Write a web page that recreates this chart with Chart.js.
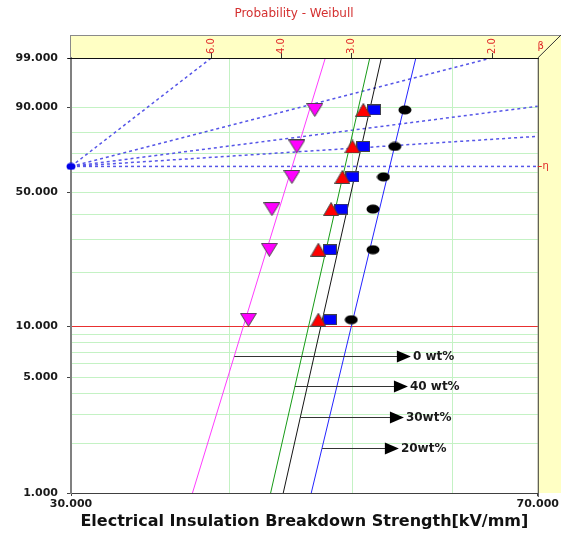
<!DOCTYPE html>
<html>
<head>
<meta charset="utf-8">
<script src="https://cdn.jsdelivr.net/npm/chart.js@4/dist/chart.umd.min.js"></script>
<style>
  html, body { margin: 0; padding: 0; background: #fff; }
  #wrap { width: 561px; height: 533px; }
</style>
</head>
<body>
<div id="wrap"><canvas id="c" width="561" height="533"></canvas></div>
<script>
// cumulative failure probability of each specimen, %
const probs = [10.9, 26.6, 42.2, 57.8, 73.4, 89.1];
// breakdown strength, kV/mm
const wt0 = [41.4, 43.0, 43.2, 44.8, 45.2, 46.7];
const wt40 = [47.0, 47.0, 48.1, 49.1, 50.0, 51.0];
const wt30 = [48.0, 48.0, 49.0, 50.0, 51.0, 52.0];
const wt20 = [49.9, 51.9, 51.9, 52.9, 54.0, 55.0];
// fitted Weibull lines: strength at F = 1 % and at F = 99 %
const fitAt1 = [37.4, 43.1, 44.1, 46.4];
const fitAt99 = [47.6, 51.6, 52.7, 56.1];
const seriesNames = ['0 wt%', '40 wt%', '30wt%', '20wt%'];
// axes
const probTicks = [1, 2, 3, 4, 5, 6, 7, 8, 9, 10, 20, 30, 40, 50, 60, 70, 80, 90, 99];
const probLabels = [1, 5, 10, 50, 90, 99];
const strengthTicks = [30, 40, 50, 60, 70];
const strengthLabels = [30, 70];
// beta estimation scale along the top
const betaTicks = [6, 4, 3, 2];
const betaGuides = [6, 2, 1, 0.5, 0];

const xMin = 30, xMax = 70, pMin = 1, pMax = 99;
const wb = p => Math.log(-Math.log(1 - p / 100));
const unwb = w => 100 * (1 - Math.exp(-Math.exp(w)));
const etaProb = unwb(0);

// y axis drawn on Weibull probability paper
class WeibullScale extends Chart.LinearScale {
  getPixelForValue(v) {
    const a = wb(this.min), b = wb(this.max);
    return this.getPixelForDecimal((wb(v) - a) / (b - a));
  }
  getValueForPixel(px) {
    const a = wb(this.min), b = wb(this.max);
    return unwb(a + this.getDecimalForPixel(px) * (b - a));
  }
}
WeibullScale.id = 'weibull';
WeibullScale.defaults = {};
Chart.register(WeibullScale);

function markerCanvas(w, h, paint) {
  const c = document.createElement('canvas');
  c.width = w; c.height = h;
  paint(c.getContext('2d'), w, h);
  return c;
}
const triDown = fill => markerCanvas(17, 14, (g, w, h) => {
  g.beginPath(); g.moveTo(0.5, 0.5); g.lineTo(w - 0.5, 0.5); g.lineTo(w / 2, h - 0.5); g.closePath();
  g.fillStyle = fill; g.fill(); g.strokeStyle = '#444'; g.stroke();
});
const triUp = fill => markerCanvas(16, 14, (g, w, h) => {
  g.beginPath(); g.moveTo(w / 2, 0.5); g.lineTo(w - 0.5, h - 0.5); g.lineTo(0.5, h - 0.5); g.closePath();
  g.fillStyle = fill; g.fill(); g.strokeStyle = '#444'; g.stroke();
});
const box = fill => markerCanvas(14, 11, (g, w, h) => {
  g.fillStyle = fill; g.fillRect(0.5, 0.5, w - 1, h - 1);
  g.strokeStyle = '#444'; g.strokeRect(0.5, 0.5, w - 1, h - 1);
});
const oval = (fill, w, h) => markerCanvas(w, h, (g) => {
  g.beginPath(); g.ellipse(w / 2, h / 2, w / 2 - 0.5, h / 2 - 0.5, 0, 0, Math.PI * 2);
  g.fillStyle = fill; g.fill();
});

const pts = arr => arr.map((x, i) => ({x: x, y: probs[i]}));
const lineColors = ['#ff3cff', '#179a17', '#151515', '#2424ff'];

const datasets = [];
// markers (drawn on top)
[
  {data: wt40, img: triUp('#ff0000'), order: 1},
  {data: wt30, img: box('#0000ff'), order: 2},
  {data: wt0, img: triDown('#ff00ff'), order: 1},
  {data: wt20, img: oval('#000000', 14, 10), order: 2}
].forEach(s => datasets.push({
  data: pts(s.data), pointStyle: s.img, pointRadius: 7, order: s.order, showLine: false
}));
// fitted lines
fitAt1.forEach((lo, i) => datasets.push({
  data: [{x: lo, y: pMin}, {x: fitAt99[i], y: pMax}],
  showLine: true, pointRadius: 0, borderColor: lineColors[i], borderWidth: 1, order: 5
}));
// beta guide lines through the pivot
betaGuides.forEach(b => {
  let xEnd = xMin * Math.exp(b > 0 ? wb(pMax) / b : Infinity), pEnd = pMax;
  if (!(xEnd <= xMax)) { xEnd = xMax; pEnd = unwb(b * Math.log(xMax / xMin)); }
  datasets.push({
    data: [{x: xMin, y: etaProb}, {x: xEnd, y: pEnd}],
    showLine: true, pointRadius: 0, borderColor: '#5656e8', borderWidth: 1.5,
    borderDash: [3, 3], order: 6
  });
});
// pivot point
datasets.push({
  data: [{x: xMin, y: etaProb}], pointStyle: oval('#0000e8', 10, 8), pointRadius: 5,
  clip: false, order: 0
});

// labels pointing at the fitted lines
const legendArrows = [
  {series: 0, prob: 6.7, tip: 55.6},
  {series: 1, prob: 4.43, tip: 55.3},
  {series: 2, prob: 2.89, tip: 54.9},
  {series: 3, prob: 1.88, tip: 54.4}
];

const decor = {
  id: 'decor',
  beforeDraw(chart) {
    const g = chart.ctx, a = chart.chartArea, W = chart.width, top = a.top - 23;
    g.save();
    g.fillStyle = '#ffffc4';
    g.beginPath();
    g.moveTo(a.left, top); g.lineTo(W, top); g.lineTo(W, a.bottom);
    g.lineTo(a.right, a.bottom); g.lineTo(a.right, a.top); g.lineTo(a.left, a.top);
    g.closePath(); g.fill();
    g.restore();
  },
  afterDraw(chart) {
    const g = chart.ctx, a = chart.chartArea, W = chart.width, top = a.top - 23;
    const xs = chart.scales.x, ys = chart.scales.y;
    g.save();
    // frame of the yellow bands
    g.lineWidth = 1;
    g.strokeStyle = '#8a8a8a';
    g.beginPath(); g.moveTo(a.left, top + 0.5); g.lineTo(W, top + 0.5); g.stroke();
    g.beginPath(); g.moveTo(a.left - 0.5, top); g.lineTo(a.left - 0.5, a.top); g.stroke();
    g.strokeStyle = '#333';
    g.beginPath(); g.moveTo(a.right, a.top); g.lineTo(W, top); g.stroke();
    g.beginPath(); g.moveTo(a.right + 0.5, a.top); g.lineTo(a.right + 0.5, a.bottom + 4); g.stroke();
    g.strokeStyle = '#111';
    g.beginPath(); g.moveTo(a.left - 3, a.top + 0.5); g.lineTo(a.right + 1, a.top + 0.5); g.stroke();

    // beta scale
    g.fillStyle = '#e02828';
    g.font = '10px "DejaVu Sans"';
    g.textAlign = 'center';
    g.textBaseline = 'middle';
    betaTicks.forEach(b => {
      const px = Math.round(xs.getPixelForValue(xMin * Math.exp(wb(pMax) / b))) + 0.5;
      g.strokeStyle = '#333';
      g.beginPath(); g.moveTo(px, a.top - 5); g.lineTo(px, a.top); g.stroke();
      g.save();
      g.translate(px, top + 11);
      g.rotate(-Math.PI / 2);
      g.fillText(b.toFixed(1), 0, 0);
      g.restore();
    });
    g.fillText('\u03b2', a.right + 3, top + 11);
    const ey = Math.round(ys.getPixelForValue(etaProb)) + 0.5;
    g.strokeStyle = '#e02828';
    g.beginPath(); g.moveTo(a.right, ey); g.lineTo(a.right + 4, ey); g.stroke();
    g.fillText('\u03b7', a.right + 8, ey);

    // arrows with series names
    g.font = 'bold 12px "DejaVu Sans"';
    g.textAlign = 'left';
    legendArrows.forEach(r => {
      const i = r.series;
      const t = (wb(r.prob) - wb(pMin)) / (wb(pMax) - wb(pMin));
      const xOn = Math.exp(Math.log(fitAt1[i]) + t * (Math.log(fitAt99[i]) - Math.log(fitAt1[i])));
      const x0 = xs.getPixelForValue(xOn), x1 = xs.getPixelForValue(r.tip);
      const y = Math.round(ys.getPixelForValue(r.prob)) + 0.5;
      g.strokeStyle = '#333';
      g.beginPath(); g.moveTo(x0, y); g.lineTo(x1 - 13, y); g.stroke();
      g.fillStyle = '#000';
      g.beginPath(); g.moveTo(x1 - 14, y - 6); g.lineTo(x1, y); g.lineTo(x1 - 14, y + 6); g.closePath(); g.fill();
      g.fillStyle = '#1a1a1a';
      g.fillText(seriesNames[i], x1 + 2, y);
    });

    // title
    g.fillStyle = '#d43030';
    g.font = '12px "DejaVu Sans"';
    g.textAlign = 'center';
    g.fillText('Probability - Weibull', 294, 14);
    g.restore();
  }
};

const gridGreen = '#c4f2c4';
new Chart(document.getElementById('c'), {
  type: 'scatter',
  data: {datasets: datasets},
  options: {
    responsive: false,
    animation: false,
    devicePixelRatio: 1,
    layout: {padding: {top: 58, right: 23, left: 0, bottom: 0}},
    plugins: {legend: {display: false}, tooltip: {enabled: false}, title: {display: false}},
    scales: {
      x: {
        type: 'logarithmic', min: xMin, max: xMax,
        afterBuildTicks: s => { s.ticks = strengthTicks.map(v => ({value: v})); },
        afterFit: s => { s.height = 40; },
        grid: {
          color: c => (c.tick && strengthLabels.includes(c.tick.value)) ? 'rgba(0,0,0,0)' : gridGreen,
          tickColor: c => (c.tick && strengthLabels.includes(c.tick.value)) ? '#444' : 'rgba(0,0,0,0)',
          tickLength: 3
        },
        border: {color: '#404040', width: 1},
        ticks: {
          autoSkip: false, maxRotation: 0, padding: 2,
          color: '#1a1a1a', font: {family: 'DejaVu Sans', size: 11, weight: 'bold'},
          callback: v => strengthLabels.includes(v) ? v.toFixed(3) : ''
        },
        title: {
          display: true, text: 'Electrical Insulation Breakdown Strength[kV/mm]',
          color: '#111', font: {family: 'DejaVu Sans', size: 16, weight: 'bold'},
          padding: {top: 0, bottom: 2}
        }
      },
      y: {
        type: 'weibull', min: pMin, max: pMax, bounds: 'data',
        afterBuildTicks: s => { s.ticks = probTicks.map(v => ({value: v})); },
        afterFit: s => { s.width = 71; },
        grid: {
          color: c => {
            const v = c.tick && c.tick.value;
            if (v === 10) return '#e83030';
            if (v === pMin || v === pMax) return 'rgba(0,0,0,0)';
            return gridGreen;
          },
          tickColor: c => (c.tick && probLabels.includes(c.tick.value)) ? '#444' : 'rgba(0,0,0,0)',
          tickLength: 4
        },
        border: {color: '#808080', width: 2},
        ticks: {
          autoSkip: false, padding: 9,
          color: '#1a1a1a', font: {family: 'DejaVu Sans', size: 11, weight: 'bold'},
          callback: v => probLabels.includes(v) ? v.toFixed(3) : ''
        }
      }
    }
  },
  plugins: [decor]
});
</script>
</body>
</html>
